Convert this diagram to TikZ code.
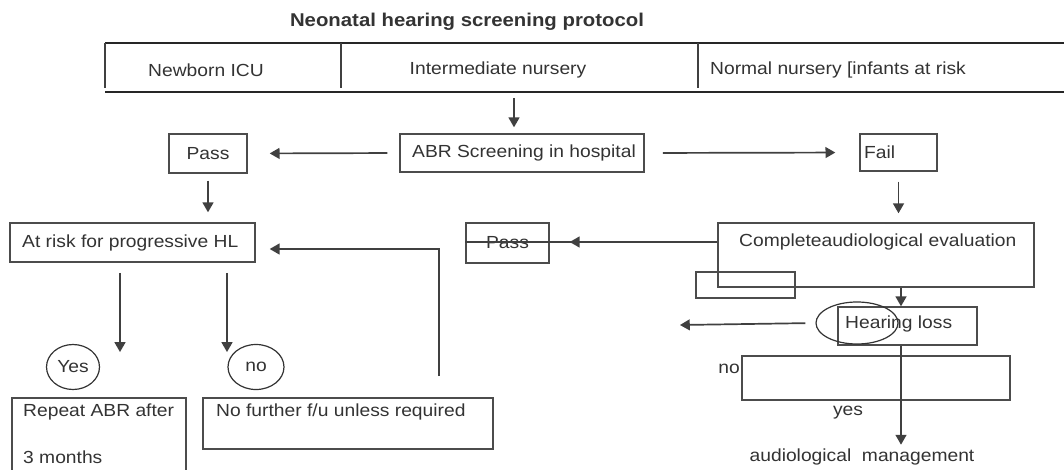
\documentclass[tikz,border=0pt]{standalone}
\usepackage{fontspec}
\setmainfont[FakeStretch=1.1]{Liberation Sans}
\usepackage{xcolor}
\usetikzlibrary{arrows}
\usetikzlibrary{shapes}

\newcommand{\boxfont}{\fontsize{17.5}{20}\selectfont}

\tikzset{
	box/.style={draw=black!70, line width=1.5pt, rectangle, inner sep=0pt},
	oval/.style={draw=black!80, line width=1.2pt, ellipse, inner sep=0pt},
	txt/.style={text=black!80, inner sep=0pt, font=\boxfont},
	conn/.style={draw=black!75, line width=1.7pt},
	arr/.style={conn, ->, >=triangle 60},
}

\begin{document}
\begin{tikzpicture}[x=1pt, y=-1pt]
		\useasboundingbox (0,0) rectangle (1064,470);
		\clip (0,0) rectangle (1064,470);
		%
		%Titel
		\node[txt, font=\fontsize{18.5}{20}\selectfont\bfseries] (title) at (467,22) {Neonatal hearing screening protocol};
		%
		%Tabelle der Stationen
		\draw[conn, draw=black!85] (105,43) -- (1064,43);
		\draw[conn, draw=black!85] (105,92) -- (1064,92);
		\draw[conn] (105,43) -- (105,88);
		\draw[conn] (341,43) -- (341,88);
		\draw[conn] (698,43) -- (698,88);
		\node[txt] (newborn) at (206,70) {Newborn ICU};
		\node[txt] (intermed) at (498,70) {Intermediate nursery};
		\node[txt] (normal) at (838,70) {Normal nursery [infants at risk};
		\coordinate (tabbot) at (514,98);
		%
		%ABR Screening
		\node[box, minimum width=244pt, minimum height=38pt] (abr) at (522,153) {};
		\node[txt, anchor=west] (abrtxt) at (412,153) {ABR Screening in hospital};
		%
		%Pass / Fail
		\node[box, txt, minimum width=78pt, minimum height=39pt] (passa) at (208,153.5) {Pass};
		\node[box, minimum width=77pt, minimum height=37pt] (fail) at (898.5,152.5) {};
		\node[txt, anchor=west] (failtxt) at (864,152.5) {Fail};
		%
		%At risk
		\node[box, minimum width=245pt, minimum height=39pt] (atrisk) at (132.5,242.5) {};
		\node[txt, anchor=west] (risktxt) at (22,242.5) {At risk for progressive HL};
		\node[box, txt, minimum width=83pt, minimum height=40pt] (passb) at (507.5,243) {Pass};
		%
		%Complete evaluation
		\node[box, minimum width=316pt, minimum height=64pt] (complete) at (876,255) {};
		\node[txt, anchor=west] (comptxt) at (739,242) {Completeaudiological evaluation};
		\node[box, minimum width=99pt, minimum height=26pt] (spare) at (745.5,285) {};
		%
		%Hearing loss
		\node[box, minimum width=139pt, minimum height=38pt] (hearing) at (907.5,326) {};
		\node[oval, minimum width=82pt, minimum height=42pt] (hlell) at (857,323) {};
		\node[txt, anchor=west] (hltxt) at (845,324) {Hearing loss};
		\coordinate (hlleft) at (680,325);
		\node[box, minimum width=268pt, minimum height=44pt] (outcome) at (876,378) {};
		\node[txt, anchor=east] (notxt) at (740,369) {no};
		\node[txt] (yestxt) at (848,413) {yes};
		\node[txt] (mgmt) at (862,457) {audiological\ \ management};
		%
		%Yes / no
		\node[oval, txt, minimum width=53pt, minimum height=45pt] (yes) at (73,367) {Yes};
		\node[oval, txt, minimum width=56pt, minimum height=45pt] (no) at (256,367) {no};
		\node[box, minimum width=174pt, minimum height=84pt] (repeat) at (99,440) {};
		\node[txt, anchor=west] (reptxt) at (23,412) {Repeat ABR after};
		\node[txt, anchor=west] (montxt) at (23,457) {3 months};
		\node[box, minimum width=290pt, minimum height=51pt] (nofu) at (348,423.5) {};
		\node[txt, anchor=west] (nofutxt) at (216,412) {No further f/u unless required};
		\coordinate (retend) at (439,376);
		%
		%Pfeile
		\draw[arr, shorten >=6pt] (tabbot) -- (tabbot |- abr.north);
		\draw[arr, shorten <=12pt, shorten >=22pt] (abr.west) -- (passa.east);
		\draw[arr, shorten <=18pt, shorten >=24pt] (abr.east) -- (fail.west);
		\draw[arr, shorten <=7pt, shorten >=10pt] (passa.south) -- (passa.south |- atrisk.north);
		\draw[arr, shorten <=10pt, shorten >=9pt] (fail.south) -- (fail.south |- complete.north);
		\draw[conn] (passb.west |- comptxt) -- (complete.west |- comptxt);
		\draw[arr, shorten >=20pt] (complete.west |- comptxt) -- (passb.east |- comptxt);
		\draw[arr, shorten >=14pt] (retend) |- ([yshift=-6.5pt]atrisk.east);
		\draw[arr, shorten <=10pt, shorten >=15pt] ([xshift=-12.5pt]atrisk.south) -- ([xshift=-12.5pt]atrisk.south |- yes.center);
		\draw[arr, shorten <=10pt, shorten >=15pt] ([xshift=94.5pt]atrisk.south) -- ([xshift=94.5pt]atrisk.south |- no.center);
		\draw[arr] ([xshift=25pt]complete.south) -- ([xshift=25pt]complete.south |- hearing.north);
		\draw[arr, shorten <=10pt] (hlell.west) -- (hlleft);
		\draw[arr, shorten >=4pt] ([xshift=-6.5pt]hearing.south) -- ([xshift=-6.5pt]hearing.south |- mgmt.north);
	\end{tikzpicture}
\end{document}
